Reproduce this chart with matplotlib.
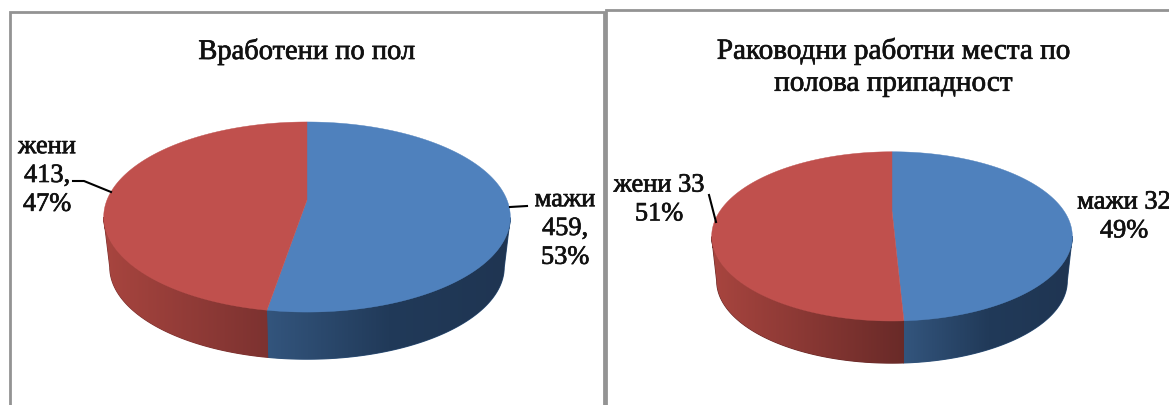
import numpy as np
import matplotlib
matplotlib.use('Agg')
import matplotlib.pyplot as plt
import matplotlib.patheffects as pe
from matplotlib.patches import Polygon, Rectangle
from matplotlib.colors import LinearSegmentedColormap

plt.rcParams['font.family'] = ['Liberation Serif', 'DejaVu Serif']

categories = ['мажи', 'жени']
staff_values = [459, 413]
manager_values = [32, 33]
staff_title = 'Вработени по пол'
manager_title = 'Раководни работни места по\nполова припадност'

blue_top = '#4f81bd'
red_top = '#c0504d'
blue_wall = [(0, '#33557d'), (0.5, '#213a59'), (1, '#1f3552')]
red_wall_left = [(0, '#a8453f'), (1, '#7c3230')]
red_wall_right = [(0, '#a8453f'), (1, '#692a28')]


def project(theta, cx, ay, sx, sy, k):
    # flat circle seen in perspective, theta runs clockwise from the top
    w = 1 + k * np.cos(theta)
    return cx + sx * np.sin(theta) / w, ay - sy * np.cos(theta) / w


def draw_pie(ax, values, cx, ay, sx, sy, k, depth, shrink, wall_maps):
    fracs = np.array(values) / sum(values)
    edges = np.concatenate([[0], np.cumsum(fracs)]) * 2 * np.pi
    full_x, full_y = project(np.linspace(0, 2 * np.pi, 721), cx, ay, sx, sy, k)
    ell_y = (full_y.min() + full_y.max()) / 2
    colors = [blue_top, red_top]
    for i in range(len(values)):
        th = np.linspace(edges[i], edges[i + 1], 400)
        x, y = project(th, cx, ay, sx, sy, k)
        # side wall, only the front part of the rim shows
        front = y >= ell_y
        xt, yt = x[front], y[front]
        xb = cx + (xt - cx) * shrink
        yb = ell_y + (yt - ell_y) * shrink + depth
        pts = np.column_stack([np.r_[xt, xb[::-1]], np.r_[yt, yb[::-1]]])
        # plain fill under the gradient hides the seam between the two walls
        ax.fill(pts[:, 0], pts[:, 1], color=wall_maps[i][-1 if i else 0][1], lw=0.8, zorder=1.5)
        clip = Polygon(pts, closed=True, fc='none', ec='none', transform=ax.transData)
        ax.add_patch(clip)
        cmap = LinearSegmentedColormap.from_list('wall', wall_maps[i])
        grad = np.linspace(0, 1, 256)
        extent = [pts[:, 0].min(), pts[:, 0].max(), pts[:, 1].max(), pts[:, 1].min()]
        im = ax.imshow(grad[None, :], cmap=cmap, extent=extent, aspect='auto', zorder=2)
        im.set_clip_path(clip)
    for i in range(len(values)):
        th = np.linspace(edges[i], edges[i + 1], 400)
        x, y = project(th, cx, ay, sx, sy, k)
        ax.fill(np.r_[cx, x], np.r_[ay, y], color=colors[i], lw=0.3, zorder=3)


fig = plt.figure(figsize=(11.69, 4.05), dpi=100)
ax = fig.add_axes([0, 0, 1, 1])
frame = '#939393'

ax.add_patch(Rectangle((9.5, 11.5), 594, 420, fc='white', ec=frame, lw=2.0, zorder=1))
ax.add_patch(Rectangle((605.5, 9.5), 600, 420, fc='white', ec=frame, lw=2.0, zorder=1))

draw_pie(ax, staff_values, 307, 200, 200, 92, 0.179, 50, 0.97, [blue_wall, red_wall_left])
draw_pie(ax, manager_values, 892, 211, 172, 77, 0.30, 44.5, 0.972, [blue_wall, red_wall_right])

heavy = [pe.withStroke(linewidth=0.5, foreground='#111111')]
ax.text(307, 52, staff_title, ha='center', va='center', fontsize=20.5, color='#111111',
        zorder=5, path_effects=heavy)
ax.text(893, 67, manager_title, ha='center', va='center', fontsize=21, linespacing=1.3,
        color='#111111', zorder=5, path_effects=heavy)


def pct(values, i):
    return round(100 * values[i] / sum(values))


lab = dict(ha='center', va='center', fontsize=19, color='#111111', zorder=5, linespacing=1.4,
           path_effects=heavy)
ax.text(47, 176, f'{categories[1]}\n{staff_values[1]},\n{pct(staff_values, 1)}%', **lab)
ax.text(565, 229, f'{categories[0]}\n{staff_values[0]},\n{pct(staff_values, 0)}%', **lab)
ax.text(659, 200, f'{categories[1]} {manager_values[1]}\n{pct(manager_values, 1)}%', **lab)
ax.text(1124, 217, f'{categories[0]} {manager_values[0]}\n{pct(manager_values, 0)}%', **lab)

for lx, ly in [([73, 84, 111], [181, 181, 192]), ([510, 527], [207, 206]), ([709, 716], [195, 222])]:
    ax.plot(lx, ly, color='black', lw=1.5, zorder=4)

ax.set_xlim(0, 1169)
ax.set_ylim(405, 0)
ax.axis('off')
fig.savefig('out.png', dpi=100)
plt.close(fig)
